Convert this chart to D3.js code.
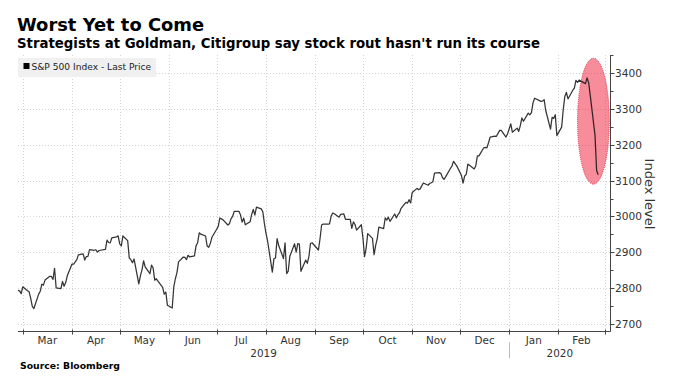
<!DOCTYPE html>
<html>
<head>
<meta charset="utf-8">
<script src="https://cdn.jsdelivr.net/npm/d3@7"></script>
<style>
  html, body { margin: 0; padding: 0; background: #fff; }
  svg { display: block; }
  text { font-family: "DejaVu Sans", Verdana, sans-serif; }
</style>
</head>
<body>
<svg id="chart" width="680" height="378"></svg>
<script>
// ---- DATA ----
const title = "Worst Yet to Come";
const subtitle = "Strategists at Goldman, Citigroup say stock rout hasn't run its course";
const legendLabel = "S&P 500 Index - Last Price";
const sourceLabel = "Source: Bloomberg";
const axisTitle = "Index level";

const dates = [
"2019-02-26","2019-02-27","2019-02-28","2019-03-01","2019-03-04","2019-03-05","2019-03-06","2019-03-07","2019-03-08",
"2019-03-11","2019-03-12","2019-03-13","2019-03-14","2019-03-15","2019-03-18","2019-03-19","2019-03-20","2019-03-21","2019-03-22",
"2019-03-25","2019-03-26","2019-03-27","2019-03-28","2019-03-29","2019-04-01","2019-04-02","2019-04-03","2019-04-04","2019-04-05",
"2019-04-08","2019-04-09","2019-04-10","2019-04-11","2019-04-12","2019-04-15","2019-04-16","2019-04-17","2019-04-18",
"2019-04-22","2019-04-23","2019-04-24","2019-04-25","2019-04-26","2019-04-29","2019-04-30","2019-05-01","2019-05-02","2019-05-03",
"2019-05-06","2019-05-07","2019-05-08","2019-05-09","2019-05-10","2019-05-13","2019-05-14","2019-05-15","2019-05-16","2019-05-17",
"2019-05-20","2019-05-21","2019-05-22","2019-05-23","2019-05-24","2019-05-28","2019-05-29","2019-05-30","2019-05-31",
"2019-06-03","2019-06-04","2019-06-05","2019-06-06","2019-06-07","2019-06-10","2019-06-11","2019-06-12","2019-06-13","2019-06-14",
"2019-06-17","2019-06-18","2019-06-19","2019-06-20","2019-06-21","2019-06-24","2019-06-25","2019-06-26","2019-06-27","2019-06-28",
"2019-07-01","2019-07-02","2019-07-03","2019-07-05","2019-07-08","2019-07-09","2019-07-10","2019-07-11","2019-07-12",
"2019-07-15","2019-07-16","2019-07-17","2019-07-18","2019-07-19","2019-07-22","2019-07-23","2019-07-24","2019-07-25","2019-07-26",
"2019-07-29","2019-07-30","2019-07-31","2019-08-01","2019-08-02","2019-08-05","2019-08-06","2019-08-07","2019-08-08","2019-08-09",
"2019-08-12","2019-08-13","2019-08-14","2019-08-15","2019-08-16","2019-08-19","2019-08-20","2019-08-21","2019-08-22","2019-08-23",
"2019-08-26","2019-08-27","2019-08-28","2019-08-29","2019-08-30","2019-09-03","2019-09-04","2019-09-05","2019-09-06",
"2019-09-09","2019-09-10","2019-09-11","2019-09-12","2019-09-13","2019-09-16","2019-09-17","2019-09-18","2019-09-19","2019-09-20",
"2019-09-23","2019-09-24","2019-09-25","2019-09-26","2019-09-27","2019-09-30","2019-10-01","2019-10-02","2019-10-03","2019-10-04",
"2019-10-07","2019-10-08","2019-10-09","2019-10-10","2019-10-11","2019-10-14","2019-10-15","2019-10-16","2019-10-17","2019-10-18",
"2019-10-21","2019-10-22","2019-10-23","2019-10-24","2019-10-25","2019-10-28","2019-10-29","2019-10-30","2019-10-31","2019-11-01",
"2019-11-04","2019-11-05","2019-11-06","2019-11-07","2019-11-08","2019-11-11","2019-11-12","2019-11-13","2019-11-14","2019-11-15",
"2019-11-18","2019-11-19","2019-11-20","2019-11-21","2019-11-22","2019-11-25","2019-11-26","2019-11-27","2019-11-29",
"2019-12-02","2019-12-03","2019-12-04","2019-12-05","2019-12-06","2019-12-09","2019-12-10","2019-12-11","2019-12-12","2019-12-13",
"2019-12-16","2019-12-17","2019-12-18","2019-12-19","2019-12-20","2019-12-23","2019-12-24","2019-12-26","2019-12-27",
"2019-12-30","2019-12-31","2020-01-02","2020-01-03","2020-01-06","2020-01-07","2020-01-08","2020-01-09","2020-01-10",
"2020-01-13","2020-01-14","2020-01-15","2020-01-16","2020-01-17","2020-01-21","2020-01-22","2020-01-23","2020-01-24",
"2020-01-27","2020-01-28","2020-01-29","2020-01-30","2020-01-31","2020-02-03","2020-02-04","2020-02-05","2020-02-06","2020-02-07",
"2020-02-10","2020-02-11","2020-02-12","2020-02-13","2020-02-14","2020-02-18","2020-02-19","2020-02-20","2020-02-21",
"2020-02-24","2020-02-25","2020-02-26"
];

const values = [
2793.9,2792.4,2784.5,2803.7,2792.8,2789.7,2771.5,2748.9,2743.1,
2783.3,2791.5,2810.9,2808.5,2822.5,2832.9,2832.6,2824.2,2854.9,2800.7,
2798.4,2818.5,2805.4,2815.4,2834.4,2867.2,2867.2,2873.4,2879.4,2892.7,
2895.8,2878.2,2888.2,2888.3,2907.4,2905.6,2907.1,2900.5,2905.0,
2908.0,2933.7,2927.3,2926.2,2939.9,2943.0,2945.8,2923.7,2917.5,2945.6,
2932.5,2884.1,2879.4,2870.7,2881.4,2811.9,2834.4,2851.0,2876.3,2859.5,
2840.2,2864.4,2856.3,2822.2,2826.1,2802.4,2783.0,2788.9,2752.1,
2744.5,2803.3,2826.2,2843.5,2873.3,2886.7,2885.7,2879.8,2891.6,2887.0,
2889.7,2917.8,2926.5,2954.2,2950.5,2945.4,2917.4,2913.8,2924.9,2941.8,
2964.3,2973.0,2995.8,2990.4,2976.0,2979.6,2993.1,2999.9,3013.8,
3014.3,3004.0,2984.4,2995.1,2976.6,2985.0,3005.5,3019.6,3003.7,3025.9,
3021.0,3013.2,2980.4,2953.6,2932.1,2844.7,2881.8,2884.0,2938.1,2918.7,
2882.7,2926.3,2840.6,2847.6,2888.7,2923.7,2900.5,2924.4,2923.0,2847.1,
2878.4,2869.2,2887.9,2924.6,2926.5,2906.3,2937.8,2976.0,2978.7,
2978.4,2979.4,3000.9,3009.6,3007.4,2998.0,3005.7,3006.7,3006.8,2992.1,
2991.8,2966.6,2984.9,2977.6,2961.8,2976.7,2940.3,2887.6,2910.6,2952.0,
2938.8,2893.1,2919.4,2938.1,2970.3,2966.2,2995.7,2989.7,2998.0,2986.2,
3006.7,2996.0,3004.5,3010.3,3022.6,3039.4,3036.9,3046.8,3037.6,3066.9,
3078.3,3074.6,3076.8,3085.2,3093.1,3087.0,3091.8,3094.0,3096.6,3120.5,
3122.0,3120.2,3108.5,3103.5,3110.3,3133.6,3140.5,3153.6,3141.0,
3113.9,3093.2,3112.8,3117.4,3145.9,3136.0,3132.5,3141.6,3168.6,3168.8,
3191.5,3192.5,3191.1,3205.4,3221.2,3224.0,3223.4,3239.9,3240.0,
3221.3,3230.8,3257.9,3234.9,3246.3,3237.2,3253.1,3274.7,3265.4,
3288.1,3283.2,3289.3,3316.8,3329.6,3320.8,3321.8,3325.5,3295.5,
3243.6,3276.2,3273.4,3283.7,3225.5,3248.9,3297.6,3334.7,3345.8,3327.7,
3352.1,3357.8,3379.5,3373.9,3380.2,3370.3,3386.2,3373.2,3337.8,
3225.9,3128.2,3116.4
];

const yTicks = [2700, 2800, 2900, 3000, 3100, 3200, 3300, 3400];
const yMinorTicks = [2750, 2850, 2950, 3050, 3150, 3250, 3350, 3450];
const monthLabels = ["Mar","Apr","May","Jun","Jul","Aug","Sep","Oct","Nov","Dec","Jan","Feb"];
const yearLabels = ["2019", "2020"];
// highlight ellipse extent in data terms
const highlightDates = ["2020-02-13", "2020-03-04"];
const highlightValues = [3090, 3441];

// ---- LAYOUT ----
const plotLeft = 18, plotRight = 610.5, plotTop = 55, plotBottom = 331.5;

const parse = d3.utcParse("%Y-%m-%d");
const data = dates.map((d, i) => ({ date: parse(d), value: values[i] }));

const x = d3.scaleUtc()
  .domain([parse("2019-02-26"), parse("2020-02-26")])
  .range([18, 598.2]);
const y = d3.scaleLinear()
  .domain([2700, 3400])
  .range([324, 73]);

const svg = d3.select("#chart");

// titles
svg.append("text").attr("x", 17).attr("y", 30.5)
  .attr("font-weight", "bold").attr("font-size", 17.9).attr("fill", "#000")
  .text(title);
svg.append("text").attr("x", 17).attr("y", 48.3)
  .attr("font-weight", "bold").attr("font-size", 13.3).attr("fill", "#000")
  .text(subtitle);

// month boundaries
const monthStarts = d3.utcMonth.range(parse("2019-03-01"), parse("2020-03-02"));

// gridlines
const grid = svg.append("g").attr("stroke", "#d4d4d4").attr("stroke-width", 1)
  .attr("stroke-dasharray", "1,2").attr("fill", "none");
grid.selectAll("line.v").data(monthStarts).join("line")
  .attr("class", "v")
  .attr("x1", d => Math.round(x(d)) + 0.5).attr("x2", d => Math.round(x(d)) + 0.5)
  .attr("y1", plotTop).attr("y2", plotBottom);
grid.selectAll("line.h").data(yTicks).join("line")
  .attr("class", "h")
  .attr("x1", plotLeft).attr("x2", plotRight)
  .attr("y1", d => Math.round(y(d)) + 0.5).attr("y2", d => Math.round(y(d)) + 0.5);

// legend
const lg = svg.append("g");
lg.append("rect").attr("x", 18).attr("y", 58).attr("width", 138).attr("height", 19)
  .attr("fill", "#f0f0f0");
lg.append("rect").attr("x", 23.5).attr("y", 63).attr("width", 6).attr("height", 6)
  .attr("fill", "#000");
lg.append("text").attr("x", 31.5).attr("y", 69.5)
  .attr("font-size", 9.1).attr("fill", "#222").text(legendLabel);

// highlight ellipse (under the line)
const hx0 = x(parse(highlightDates[0])), hx1 = x(parse(highlightDates[1]));
const hy0 = y(highlightValues[1]), hy1 = y(highlightValues[0]);
svg.append("ellipse")
  .attr("cx", (hx0 + hx1) / 2).attr("cy", (hy0 + hy1) / 2)
  .attr("rx", (hx1 - hx0) / 2).attr("ry", (hy1 - hy0) / 2)
  .attr("fill", "rgb(240,25,55)").attr("fill-opacity", 0.5)
  .attr("stroke", "#e03048").attr("stroke-width", 1)
  .attr("stroke-dasharray", "1,1");

// line
const line = d3.line().x(d => x(d.date)).y(d => y(d.value));
svg.append("path").datum(data)
  .attr("d", line).attr("fill", "none")
  .attr("stroke", "#111").attr("stroke-opacity", 0.85).attr("stroke-width", 1.25)
  .attr("stroke-linejoin", "round");

// x axis
const xa = svg.append("g").attr("stroke", "#444").attr("fill", "none");
xa.append("line").attr("x1", plotLeft).attr("x2", plotRight)
  .attr("y1", plotBottom).attr("y2", plotBottom).attr("stroke-width", 1);
xa.selectAll("line.t").data(monthStarts).join("line").attr("class", "t")
  .attr("x1", d => Math.round(x(d)) + 0.5).attr("x2", d => Math.round(x(d)) + 0.5)
  .attr("y1", plotBottom - 2).attr("y2", plotBottom + 3);

const monthMids = monthStarts.slice(0, -1).map((d, i) => new Date((+d + +monthStarts[i + 1]) / 2));
svg.append("g").selectAll("text").data(monthLabels).join("text")
  .attr("x", (d, i) => x(monthMids[i])).attr("y", 343.5)
  .attr("text-anchor", "middle").attr("font-size", 10.4).attr("fill", "#333")
  .text(d => d);

// year labels
const yearStart2020 = parse("2020-01-01");
const yearCenters = [(plotLeft + x(yearStart2020)) / 2, (x(yearStart2020) + plotRight) / 2];
svg.append("g").selectAll("text").data(yearLabels).join("text")
  .attr("x", (d, i) => yearCenters[i]).attr("y", 356.5)
  .attr("text-anchor", "middle").attr("font-size", 10.4).attr("fill", "#333")
  .text(d => d);
svg.append("line")
  .attr("x1", Math.round(x(yearStart2020)) + 0.5).attr("x2", Math.round(x(yearStart2020)) + 0.5)
  .attr("y1", 342).attr("y2", 358).attr("stroke", "#bbb");

// y axis (right)
const ya = svg.append("g").attr("stroke", "#444");
ya.append("line").attr("x1", plotRight).attr("x2", plotRight)
  .attr("y1", plotTop).attr("y2", plotBottom);
ya.selectAll("line.maj").data(yTicks).join("line").attr("class", "maj")
  .attr("x1", plotRight).attr("x2", plotRight + 4)
  .attr("y1", d => Math.round(y(d)) + 0.5).attr("y2", d => Math.round(y(d)) + 0.5);
ya.selectAll("line.min").data(yMinorTicks).join("line").attr("class", "min")
  .attr("x1", plotRight).attr("x2", plotRight + 3)
  .attr("y1", d => Math.round(y(d)) + 0.5).attr("y2", d => Math.round(y(d)) + 0.5);
svg.append("g").selectAll("text").data(yTicks).join("text")
  .attr("x", plotRight + 4.5).attr("y", d => y(d) + 4)
  .attr("font-size", 10.6).attr("fill", "#333")
  .text(d => d);

// axis title
svg.append("text")
  .attr("transform", "translate(645,194) rotate(90)")
  .attr("text-anchor", "middle").attr("font-size", 13).attr("fill", "#333")
  .text(axisTitle);

// source
svg.append("text").attr("x", 20).attr("y", 369.3)
  .attr("font-weight", "bold").attr("font-size", 9.3).attr("fill", "#000")
  .text(sourceLabel);
</script>
</body>
</html>
